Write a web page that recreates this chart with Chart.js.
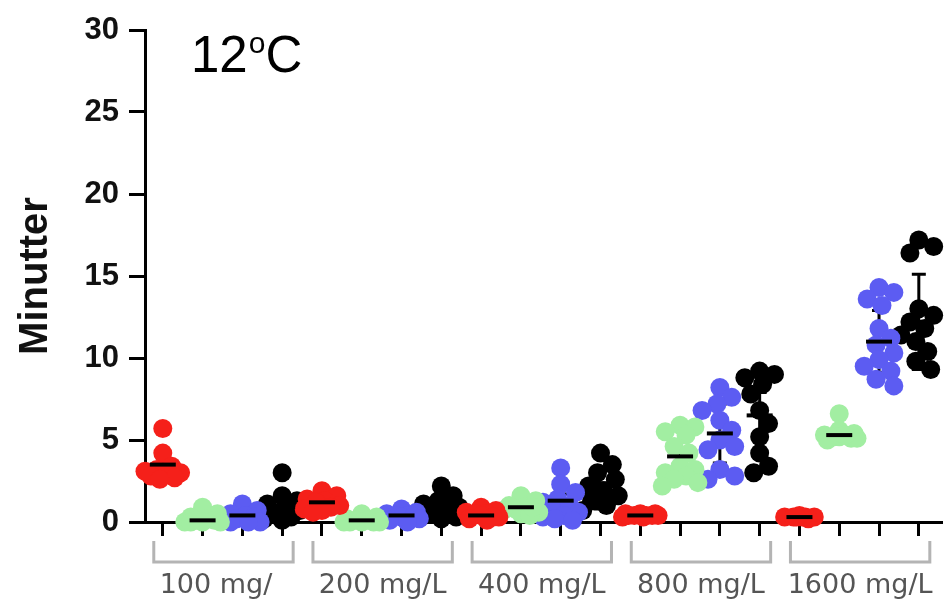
<!DOCTYPE html>
<html><head><meta charset="utf-8">
<script src="https://cdn.jsdelivr.net/npm/chart.js@4.4.1/dist/chart.umd.min.js"></script>
<style>html,body{margin:0;padding:0;background:#fff}#wrap{width:951px;height:600px}</style>
</head><body><div id="wrap"><canvas id="c" width="951" height="600"></canvas></div>
<script>
// ---- data ----
const groups = ['100 mg/', '200 mg/L', '400 mg/L', '800 mg/L', '1600 mg/L'];
const yTicks = [0, 5, 10, 15, 20, 25, 30];
const redValues = [
  [5.7, 4.2, 3.4, 3.2, 3.1, 3.0, 2.9, 2.8, 2.7, 2.6],
  [1.9, 1.6, 1.4, 1.3, 1.2, 1.0, 0.9, 0.8, 0.7, 0.6],
  [0.9, 0.7, 0.6, 0.5, 0.5, 0.4, 0.3, 0.3, 0.2, 0.1],
  [0.5, 0.5, 0.4, 0.4, 0.4, 0.4, 0.3, 0.3, 0.4, 0.5],
  [0.3, 0.3, 0.3, 0.2, 0.3, 0.3, 0.4, 0.3]
];
const greenValues = [
  [0.9, 0.5, 0.3, 0.2, 0.1, 0.1, 0, 0, 0, 0],
  [0.5, 0.3, 0.2, 0.1, 0.1, 0, 0, 0, 0, 0],
  [1.6, 1.3, 1.0, 0.9, 0.8, 0.6, 0.5, 0.4, 0.7, 0.9],
  [5.9, 5.8, 5.5, 5.3, 4.6, 4.2, 3.4, 3.2, 3.0, 2.8, 2.6, 2.4, 2.2],
  [6.6, 5.6, 5.4, 5.3, 5.2, 5.2, 5.1, 5.1, 5.0, 5.3]
];
const blueValues = [
  [1.1, 0.7, 0.5, 0.4, 0.3, 0.2, 0.1, 0, 0, 0],
  [0.8, 0.6, 0.5, 0.4, 0.4, 0.3, 0.3, 0.2, 0.1, 0],
  [3.3, 2.3, 1.8, 1.4, 1.2, 1.0, 0.8, 0.6, 0.4, 0.3, 0.2, 0.1],
  [8.2, 7.6, 7.2, 6.8, 6.2, 5.6, 5.0, 4.6, 4.4, 3.2, 2.8, 2.6],
  [14.3, 14.0, 13.6, 13.2, 11.8, 11.2, 10.8, 10.3, 9.9, 9.5, 9.2, 8.7, 8.3]
];
const blackValues = [
  [3.0, 1.6, 1.3, 1.1, 0.9, 0.7, 0.5, 0.3, 0.2, 0.1],
  [2.2, 1.6, 1.3, 1.1, 0.9, 0.7, 0.6, 0.4, 0.3, 0.2],
  [4.2, 3.5, 3.0, 2.6, 2.2, 1.9, 1.6, 1.3, 1.0, 0.7],
  [9.2, 9.0, 8.8, 8.4, 7.8, 6.8, 6.0, 5.2, 4.2, 3.4, 3.0],
  [17.2, 16.8, 16.4, 13.0, 12.6, 12.2, 11.8, 11.4, 11.0, 10.4, 9.8, 9.3]
];
const redMean   = [3.5, 1.2, 0.4, 0.4, 0.3];
const redErr    = [0.4, 0.2, 0.1, 0.05, 0.05];
const greenMean = [0.1, 0.1, 0.9, 4.0, 5.3];
const greenErr  = [0.1, 0.1, 0.2, 1.0, 0.2];
const blueMean  = [0.4, 0.4, 1.3, 5.4, 11.0];
const blueErr   = [0.2, 0.1, 0.4, 1.8, 1.9];
const blackMean = [0.9, 0.9, 1.6, 6.5, 12.2];
const blackErr  = [0.5, 0.4, 0.8, 1.4, 2.9];

const series = [
  {name: 'A', color: '#f5201a', values: redValues,   mean: redMean,   err: redErr},
  {name: 'B', color: '#a2eea2', values: greenValues, mean: greenMean, err: greenErr},
  {name: 'C', color: '#5c5cf2', values: blueValues,  mean: blueMean,  err: blueErr},
  {name: 'D', color: '#000000', values: blackValues, mean: blackMean, err: blackErr}
];

// ---- layout constants ----
const X_MIN = -0.447, X_MAX = 19.57;
const PX_PER_X = (951 - 145) / (X_MAX - X_MIN);
const PX_PER_Y = (522 - 30) / 30;

// compact beeswarm: spread overlapping points sideways, within a limited width
function swarm(vals, minDist, step, maxOff) {
  const order = vals.map((v, i) => i).sort((a, b) => vals[b] - vals[a]);
  const placed = [];
  const offs = new Array(vals.length).fill(0);
  const cand = [0];
  for (let k = 1; k * step <= maxOff; k++) { cand.push(k * step, -k * step); }
  for (const i of order) {
    const y = vals[i] * PX_PER_Y;
    let best = 0, bestD = -1, found = false;
    for (const c of cand) {
      const d = placed.length ? Math.min(...placed.map(p => Math.hypot(p.x - c, p.y - y))) : Infinity;
      if (d >= minDist) { offs[i] = c; found = true; break; }
      if (d > bestD) { bestD = d; best = c; }
    }
    if (!found) offs[i] = best;
    placed.push({x: offs[i], y});
  }
  return offs.map(o => o / PX_PER_X);
}

const datasets = series.map((s, si) => ({
  label: s.name,
  data: s.values.flatMap((vals, gi) => {
    const offs = swarm(vals, 15, 3, 20);
    return vals.map((v, k) => ({x: gi * 4 + si + offs[k], y: v}));
  }),
  backgroundColor: s.color,
  borderColor: s.color,
  pointRadius: 9.5,
  pointHoverRadius: 9.5,
  pointBorderWidth: 0,
  clip: false
}));

const errorBars = {
  id: 'errorBars',
  beforeDatasetsDraw(chart) {
    const {ctx, scales: {x, y}} = chart;
    ctx.save();
    ctx.strokeStyle = '#000'; ctx.lineWidth = 3;
    series.forEach((s, si) => {
      s.mean.forEach((m, gi) => {
        const px = x.getPixelForValue(gi * 4 + si);
        const top = y.getPixelForValue(m + s.err[gi]);
        const bot = y.getPixelForValue(Math.max(0, m - s.err[gi]));
        ctx.beginPath();
        ctx.moveTo(px, top); ctx.lineTo(px, bot);
        ctx.moveTo(px - 7, top); ctx.lineTo(px + 7, top);
        ctx.moveTo(px - 7, bot); ctx.lineTo(px + 7, bot);
        ctx.stroke();
      });
    });
    ctx.restore();
  },
  afterDatasetsDraw(chart) {
    const {ctx, scales: {x, y}} = chart;
    ctx.save();
    ctx.strokeStyle = '#000'; ctx.lineWidth = 4;
    series.forEach((s, si) => {
      s.mean.forEach((m, gi) => {
        const px = x.getPixelForValue(gi * 4 + si);
        const py = y.getPixelForValue(m);
        ctx.beginPath(); ctx.moveTo(px - 13, py); ctx.lineTo(px + 13, py); ctx.stroke();
      });
    });
    ctx.restore();
  }
};

const decorations = {
  id: 'decorations',
  afterDraw(chart) {
    const {ctx, scales: {x}} = chart;
    ctx.save();
    groups.forEach((g, gi) => {
      const l = x.getPixelForValue(gi * 4) - 9;
      const r = x.getPixelForValue(gi * 4 + 3) + 11;
      ctx.strokeStyle = '#b4b4b4'; ctx.lineWidth = 3;
      ctx.beginPath();
      ctx.moveTo(l, 541); ctx.lineTo(l, 562); ctx.lineTo(r, 562); ctx.lineTo(r, 541);
      ctx.stroke();
      ctx.fillStyle = '#555';
      ctx.font = '27px "DejaVu Sans"';
      ctx.textBaseline = 'alphabetic';
      const full = g.endsWith('/') ? g + 'L' : g;
      const w = ctx.measureText(full).width;
      ctx.textAlign = 'left';
      ctx.fillText(g, (l + r) / 2 - w / 2, 593);
    });
    ctx.fillStyle = '#000';
    ctx.textAlign = 'left';
    ctx.font = '51px "Liberation Sans", Arial';
    ctx.fillText('12', 191, 72);
    const w1 = ctx.measureText('12').width;
    ctx.font = '30px "Liberation Sans", Arial';
    ctx.fillText('o', 191 + w1 + 1, 53);
    const w2 = ctx.measureText('o').width;
    ctx.font = '51px "Liberation Sans", Arial';
    ctx.fillText('C', 191 + w1 + w2 + 1, 72);
    ctx.restore();
  }
};

new Chart(document.getElementById('c'), {
  type: 'scatter',
  data: {datasets},
  options: {
    responsive: false,
    animation: false,
    devicePixelRatio: 1,
    layout: {padding: {top: 30, right: 0, bottom: 0, left: 0}},
    plugins: {legend: {display: false}, tooltip: {enabled: false}},
    scales: {
      x: {
        type: 'linear', min: X_MIN, max: X_MAX,
        afterBuildTicks: sc => { sc.ticks = Array.from({length: 20}, (_, i) => ({value: i})); },
        afterFit: sc => { sc.height = 78; },
        ticks: {display: false},
        grid: {display: true, drawOnChartArea: false, drawTicks: true, tickLength: 14, color: '#000', lineWidth: 3},
        border: {display: true, color: '#000', width: 3}
      },
      y: {
        min: 0, max: 30,
        afterBuildTicks: sc => { sc.ticks = yTicks.map(v => ({value: v})); },
        afterFit: sc => { sc.width = 145; },
        ticks: {color: '#111', font: {family: '"Liberation Sans", Arial', size: 31, weight: 'bold'}, padding: 10},
        grid: {display: true, drawOnChartArea: false, drawTicks: true, tickLength: 16, color: '#000', lineWidth: 3},
        border: {display: true, color: '#000', width: 3},
        title: {display: true, text: 'Minutter', color: '#111', font: {family: '"Liberation Sans", Arial', size: 40, weight: 'bold'}, padding: {top: 12, bottom: 0}}
      }
    }
  },
  plugins: [errorBars, decorations]
});
</script>
</body></html>
